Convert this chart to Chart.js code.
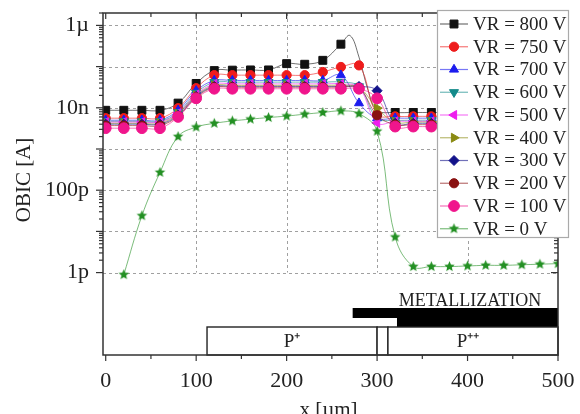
<!DOCTYPE html>
<html>
<head>
<meta charset="utf-8">
<script src="https://cdn.jsdelivr.net/npm/chart.js@4/dist/chart.umd.min.js"></script>
<style>
  html, body { margin: 0; background: #fff; }
  #wrap { width: 580px; height: 414px; }
</style>
</head>
<body>
<div id="wrap"><canvas id="chart" width="580" height="414"></canvas></div>
<script>
// ─── DATA ─────────────────────────────────────────────────────────────────────
const xPos = [0, 20, 40, 60, 80, 100, 120, 140, 160, 180, 200, 220, 240, 260, 280, 300, 320, 340, 360, 380, 400, 420, 440, 460, 480, 500];

const vr800 = [8.7e-9, 8.7e-9, 8.7e-9, 8.7e-9, 1.3e-8, 3.9e-8, 8.0e-8, 8.2e-8, 8.3e-8, 8.3e-8, 1.18e-7, 1.14e-7, 1.42e-7, 3.5e-7, 1.7e-7, 8.7e-9, 7.7e-9, 7.7e-9, 7.7e-9, 7.7e-9, 7.6e-9, 7.6e-9, 7.6e-9, 7.6e-9, 7.6e-9, 7.6e-9];
const vr750 = [5.6e-9, 5.6e-9, 5.6e-9, 5.6e-9, 9.8e-9, 3.0e-8, 6.2e-8, 6.2e-8, 6.2e-8, 6.2e-8, 6.2e-8, 6.2e-8, 7.4e-8, 9.8e-8, 1.07e-7, 7e-9, 6.2e-9, 6.2e-9, 6.2e-9, 6.2e-9, 6.2e-9, 6.2e-9, 6.2e-9, 6.2e-9, 6.2e-9, 6.2e-9];
const vr700 = [5.0e-9, 5.0e-9, 5.0e-9, 5.0e-9, 8.7e-9, 2.6e-8, 4.6e-8, 4.6e-8, 4.6e-8, 4.6e-8, 4.6e-8, 4.6e-8, 4.6e-8, 6.2e-8, 1.3e-8, 5.6e-9, 5.6e-9, 5.6e-9, 5.6e-9, 5.6e-9, 5.6e-9, 5.6e-9, 5.6e-9, 5.6e-9, 5.6e-9, 5.6e-9];
const vr600 = [4.7e-9, 4.7e-9, 4.7e-9, 4.7e-9, 7.8e-9, 2.3e-8, 4.2e-8, 4.2e-8, 4.2e-8, 4.2e-8, 4.2e-8, 4.2e-8, 4.2e-8, 4.2e-8, 3.3e-8, 5.6e-9, 5.0e-9, 5.0e-9, 5.0e-9, 5.0e-9, 5.0e-9, 5.0e-9, 5.0e-9, 5.0e-9, 5.0e-9, 5.0e-9];
const vr500 = [4.5e-9, 4.5e-9, 4.5e-9, 4.5e-9, 7.4e-9, 2.1e-8, 3.8e-8, 3.8e-8, 3.8e-8, 3.8e-8, 3.8e-8, 3.8e-8, 3.8e-8, 3.8e-8, 3.1e-8, 4.3e-9, 4.7e-9, 4.7e-9, 4.7e-9, 4.7e-9, 4.7e-9, 4.7e-9, 4.7e-9, 4.7e-9, 4.7e-9, 4.7e-9];
const vr400 = [4.2e-9, 4.2e-9, 4.2e-9, 4.2e-9, 7.1e-9, 2.0e-8, 3.5e-8, 3.5e-8, 3.5e-8, 3.5e-8, 3.5e-8, 3.5e-8, 3.5e-8, 3.5e-8, 3.1e-8, 9.8e-9, 4.5e-9, 4.5e-9, 4.5e-9, 4.5e-9, 4.5e-9, 4.5e-9, 4.5e-9, 4.5e-9, 4.5e-9, 4.5e-9];
const vr300 = [4.0e-9, 4.0e-9, 4.0e-9, 4.0e-9, 6.6e-9, 1.9e-8, 3.3e-8, 3.3e-8, 3.3e-8, 3.3e-8, 3.3e-8, 3.3e-8, 3.3e-8, 3.3e-8, 3.3e-8, 2.6e-8, 4.2e-9, 4.2e-9, 4.2e-9, 4.2e-9, 4.2e-9, 4.2e-9, 4.2e-9, 4.2e-9, 4.2e-9, 4.2e-9];
const vr200 = [3.7e-9, 3.7e-9, 3.7e-9, 3.7e-9, 6.3e-9, 1.8e-8, 3.15e-8, 3.15e-8, 3.15e-8, 3.15e-8, 3.15e-8, 3.15e-8, 3.15e-8, 3.15e-8, 3.0e-8, 6.6e-9, 3.9e-9, 3.9e-9, 3.9e-9, 3.9e-9, 3.9e-9, 3.9e-9, 3.9e-9, 3.9e-9, 3.9e-9, 3.9e-9];
const vr100 = [3.2e-9, 3.2e-9, 3.2e-9, 3.2e-9, 6.0e-9, 1.7e-8, 2.9e-8, 2.9e-8, 2.9e-8, 2.9e-8, 2.9e-8, 2.9e-8, 2.9e-8, 2.9e-8, 2.9e-8, 1.7e-8, 3.5e-9, 3.5e-9, 3.5e-9, 3.5e-9, 3.5e-9, 3.5e-9, 3.5e-9, 3.5e-9, 3.5e-9, 3.5e-9];
const vr0   = [null, 8.9e-13, 2.4e-11, 2.7e-10, 2.0e-9, 3.4e-9, 4.2e-9, 4.8e-9, 5.3e-9, 5.8e-9, 6.3e-9, 7.0e-9, 7.7e-9, 8.4e-9, 7.2e-9, 2.7e-9, 7.3e-12, 1.4e-12, 1.4e-12, 1.4e-12, 1.45e-12, 1.5e-12, 1.5e-12, 1.55e-12, 1.6e-12, 1.65e-12];

// extra line-only samples of the 800 V curve (peak before the drop, no marker)
const peak800X = [270, 290];
const peak800 = [5.7e-7, 2.7e-8];
const unmarked800X = [270, 280, 290, 300];

const seriesNames = ['VR = 800 V', 'VR = 750 V', 'VR = 700 V', 'VR = 600 V', 'VR = 500 V', 'VR = 400 V', 'VR = 300 V', 'VR = 200 V', 'VR = 100 V', 'VR = 0 V'];
const seriesValues = [vr800, vr750, vr700, vr600, vr500, vr400, vr300, vr200, vr100, vr0];

const xTicks = [0, 100, 200, 300, 400, 500];
const yTickVals = [1e-12, 1e-10, 1e-8, 1e-6];
const yTickLabels = ['1p', '100p', '10n', '1µ'];

// device structure along x (µm)
const metalWide = [273, 500];
const metalThick = [322, 500];
const dopingFrom = [112, 300, 312];
const dopingTo = [300, 312, 500];
const dopingLabels = ['P⁺', '', 'P⁺⁺'];

// ─── STYLE ────────────────────────────────────────────────────────────────────
const SERIF = '"Liberation Serif", "Times New Roman", serif';

function starImg(color, r) {
  const c = document.createElement('canvas');
  const s = Math.ceil(r * 2 + 2);
  c.width = c.height = s;
  const g = c.getContext('2d');
  g.beginPath();
  for (let i = 0; i < 10; i++) {
    const rr = i % 2 ? r * 0.45 : r;
    const a = -Math.PI / 2 + i * Math.PI / 5;
    g.lineTo(s / 2 + rr * Math.cos(a), s / 2 + rr * Math.sin(a));
  }
  g.closePath();
  g.fillStyle = color; g.fill();
  return c;
}

const STYLES = [
  { color: '#111111', shape: 'rect', rot: 0, r: 5.6 },
  { color: '#ee1c1c', shape: 'circle', rot: 0, r: 4.6 },
  { color: '#1c1cee', shape: 'triangle', rot: 0, r: 5.2 },
  { color: '#138a8a', shape: 'triangle', rot: 180, r: 5.2 },
  { color: '#ee1cee', shape: 'triangle', rot: 270, r: 5.2 },
  { color: '#8a8a12', shape: 'triangle', rot: 90, r: 5.2 },
  { color: '#12128a', shape: 'rectRot', rot: 0, r: 5 },
  { color: '#8a1212', shape: 'circle', rot: 0, r: 4.6 },
  { color: '#f0158c', shape: 'circle', rot: 0, r: 5.4 },
  { color: '#239023', shape: starImg('#239023', 5.5), rot: 0, r: 5.5 }
];

// ─── CHART ────────────────────────────────────────────────────────────────────
const datasets = seriesValues.map((vals, i) => {
  let pts = xPos.map((x, j) => ({ x, y: vals[j] }));
  if (i === 0) {
    pts = pts.concat(peak800X.map((x, j) => ({ x, y: peak800[j] }))).sort((p, q) => p.x - q.x);
  }
  const r = STYLES[i].r;
  return {
    label: seriesNames[i],
    data: pts,
    borderColor: STYLES[i].color + '99',
    backgroundColor: STYLES[i].color,
    pointBorderColor: STYLES[i].color,
    pointBackgroundColor: STYLES[i].color,
    pointStyle: STYLES[i].shape,
    pointRotation: STYLES[i].rot,
    legendRadius: r,
    pointRadius: i === 0 ? ctx => (unmarked800X.includes(ctx.raw && ctx.raw.x) ? 0 : r) : r,
    pointBorderWidth: 1,
    borderWidth: 1,
    tension: 0.4,
    order: seriesValues.length - i
  };
});

function hline(ctx, x1, x2, y) { ctx.beginPath(); ctx.moveTo(x1, y); ctx.lineTo(x2, y); ctx.stroke(); }
function vline(ctx, x, y1, y2) { ctx.beginPath(); ctx.moveTo(x, y1); ctx.lineTo(x, y2); ctx.stroke(); }

const decades = [1e-6, 1e-7, 1e-8, 1e-9, 1e-10, 1e-11, 1e-12];

const decor = {
  id: 'decor',
  beforeDatasetsDraw(chart) {
    const { ctx, chartArea: a, scales: { x, y } } = chart;
    ctx.save();
    ctx.strokeStyle = '#a0a0a0';
    ctx.lineWidth = 1;
    ctx.setLineDash([3, 3]);
    const yLow = y.getPixelForValue(1e-12);
    [100, 200, 300, 400].forEach(v => vline(ctx, Math.round(x.getPixelForValue(v)) + 0.5, a.top, yLow));
    decades.forEach(v => hline(ctx, a.left, a.right, Math.round(y.getPixelForValue(v)) + 0.5));
    ctx.restore();
  },
  afterDatasetsDraw(chart) {
    const { ctx, chartArea: a, scales: { x, y } } = chart;
    ctx.save();

    // metallization + doping regions
    const b = a.bottom;
    ctx.fillStyle = '#000';
    ctx.fillRect(x.getPixelForValue(metalWide[0]), b - 47, x.getPixelForValue(metalWide[1]) - x.getPixelForValue(metalWide[0]), 10);
    ctx.fillRect(x.getPixelForValue(metalThick[0]), b - 37, x.getPixelForValue(metalThick[1]) - x.getPixelForValue(metalThick[0]), 9);
    ctx.strokeStyle = '#222';
    ctx.lineWidth = 1.4;
    ctx.font = '19px ' + SERIF;
    ctx.textAlign = 'center';
    ctx.textBaseline = 'middle';
    dopingFrom.forEach((f, i) => {
      const x1 = x.getPixelForValue(f), x2 = x.getPixelForValue(dopingTo[i]);
      ctx.fillStyle = '#fff';
      ctx.fillRect(x1, b - 28, x2 - x1, 28);
      ctx.strokeRect(x1, b - 28, x2 - x1, 28);
      ctx.fillStyle = '#222';
      if (dopingLabels[i]) ctx.fillText(dopingLabels[i], (x1 + x2) / 2 - (i === 2 ? 5 : 0), b - 13);
    });
    ctx.font = '18px ' + SERIF;
    ctx.textBaseline = 'alphabetic';
    ctx.fillText('METALLIZATION', 470, b - 49);

    // frame
    ctx.strokeStyle = '#333';
    ctx.lineWidth = 1.5;
    ctx.strokeRect(a.left, a.top, a.right - a.left, a.bottom - a.top);

    // x ticks
    ctx.lineWidth = 1.2;
    for (let v = 0; v <= 500; v += 50) {
      const px = x.getPixelForValue(v);
      const len = v % 100 === 0 ? 6 : 4;
      vline(ctx, px, a.bottom, a.bottom + len);
      vline(ctx, px, a.top, a.top + len);
    }
    // y ticks (left outward, right inward)
    for (let n = -12; n <= -6; n++) {
      for (let k = 1; k <= 9; k++) {
        const v = k * Math.pow(10, n);
        if (v > 2.01e-6) break;
        const py = y.getPixelForValue(v);
        const len = k === 1 ? 7 : 4;
        hline(ctx, a.left - len, a.left, py);
        hline(ctx, a.right - len, a.right, py);
      }
    }

    // legend
    const lx = 437, ly = 10, lw = 131, lh = 227;
    ctx.fillStyle = '#fff';
    ctx.fillRect(lx, ly, lw, lh);
    ctx.strokeStyle = '#aaa';
    ctx.lineWidth = 1.2;
    ctx.strokeRect(lx + 0.5, ly + 0.5, lw, lh);
    ctx.font = '19px ' + SERIF;
    ctx.textAlign = 'left';
    ctx.textBaseline = 'middle';
    chart.data.datasets.forEach((ds, i) => {
      const cy = 24 + i * 22.75;
      ctx.strokeStyle = ds.borderColor;
      ctx.lineWidth = 1.2;
      hline(ctx, 440, 468, cy);
      ctx.fillStyle = ds.pointBackgroundColor;
      ctx.strokeStyle = ds.pointBorderColor;
      ctx.lineWidth = 1;
      Chart.helpers.drawPoint(ctx, { pointStyle: ds.pointStyle, rotation: ds.pointRotation, radius: ds.legendRadius, borderWidth: 1 }, 454, cy);
      ctx.fillStyle = '#222';
      ctx.fillText(ds.label, 473, cy + 1);
    });

    // axis titles
    ctx.fillStyle = '#222';
    ctx.font = '21px ' + SERIF;
    ctx.textAlign = 'center';
    ctx.textBaseline = 'top';
    ctx.fillText('x [µm]', (a.left + a.right) / 2 - 2, 400);
    ctx.translate(24, 180);
    ctx.rotate(-Math.PI / 2);
    ctx.textBaseline = 'middle';
    ctx.fillText('OBIC [A]', 0, 0);
    ctx.restore();
  }
};

new Chart(document.getElementById('chart'), {
  type: 'line',
  data: { datasets },
  options: {
    responsive: false,
    animation: false,
    devicePixelRatio: 1,
    layout: { padding: { top: 13, right: 22, left: 0, bottom: 0 } },
    plugins: { legend: { display: false }, tooltip: { enabled: false } },
    scales: {
      x: {
        type: 'linear', min: -3, max: 500,
        grid: { display: false, drawTicks: false },
        border: { display: false },
        afterBuildTicks: s => { s.ticks = xTicks.map(v => ({ value: v })); },
        afterFit: s => { s.height = 59; s.paddingLeft = 0; s.paddingRight = 0; },
        ticks: { color: '#222', font: { family: SERIF, size: 22 }, padding: 13, maxRotation: 0, autoSkip: false }
      },
      y: {
        type: 'logarithmic', min: 1e-14, max: 2e-6,
        grid: { display: false, drawTicks: false },
        border: { display: false },
        afterBuildTicks: s => { s.ticks = yTickVals.map(v => ({ value: v })); },
        afterFit: s => { s.width = 103; s.paddingTop = 0; s.paddingBottom = 0; },
        ticks: {
          color: '#222', font: { family: SERIF, size: 22 }, padding: 14, autoSkip: false,
          callback: v => {
            const i = yTickVals.findIndex(t => Math.abs(Math.log10(t) - Math.log10(v)) < 1e-6);
            return i >= 0 ? yTickLabels[i] : '';
          }
        }
      }
    }
  },
  plugins: [decor]
});
</script>
</body>
</html>
